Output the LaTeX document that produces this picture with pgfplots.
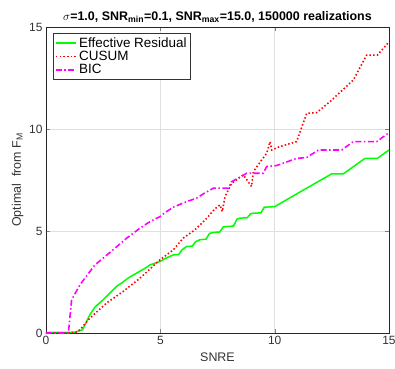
\documentclass[border=0pt]{standalone}
\usepackage{fontspec}
\setmainfont{Liberation Sans}
\usepackage{pgfplots}
\pgfplotsset{compat=1.18}
\definecolor{mgreen}{rgb}{0,1,0}
\definecolor{mred}{rgb}{1,0,0}
\definecolor{mmag}{rgb}{1,0,1}
\begin{document}
\begin{tikzpicture}
\begin{axis}[
  scale only axis,
  width=343bp, height=306bp,
  xmin=0, xmax=15, ymin=0, ymax=15,
  xtick={0,5,10,15}, ytick={0,5,10,15},
  tick align=inside,
  tick pos=both,
  major tick length=4bp,
  grid=major,
  grid style={gray!25, line width=0.5pt},
  axis line style={line width=0.6pt, black!85},
  /pgf/number format/assume math mode=true,
  tick label style={font=\fontsize{12}{14}\selectfont, text=black!80},
  label style={font=\fontsize{12.5}{14}\selectfont, text=black!80},
  xlabel={SNRE},
  ylabel={Optimal\ \ from F\textsubscript{M}},
  xlabel style={yshift=-1bp},
  ylabel style={yshift=-1bp},
  title={\bfseries $\sigma$=1.0, SNR$_{\mathbf{min}}$=0.1, SNR$_{\mathbf{max}}$=15.0, 150000 realizations},
  title style={font=\fontsize{12.5}{14}\selectfont, yshift=-5bp},
  legend style={font=\fontsize{13.5}{15}\selectfont, draw=black!80, line width=0.6pt, inner sep=2pt, row sep=-1.5pt, at={(0.02,0.98)}, anchor=north west, legend cell align=left},
  legend image code/.code={\draw[#1] (0cm,0cm) -- (0.72cm,0cm);},
  legend image post style={line width=1.6pt},
]
\coordinate (sw) at (rel axis cs:0,0);
\coordinate (ne) at (rel axis cs:1,1);
\addplot[mgreen, line width=1.5pt] coordinates {
(0,0.03) (0.5,0.03) (1.0,0.03) (1.3,0.05) (1.6,0.16) (1.92,0.9) (2.14,1.27) (2.5,1.63) (2.87,2.04) (3.1,2.3) (3.31,2.45) (3.6,2.7) (3.97,2.94) (4.3,3.15) (4.55,3.34) (4.99,3.51)
(5.3,3.7) (5.57,3.83) (5.8,3.85) (5.95,4.08) (6.15,4.24) (6.4,4.26) (6.55,4.48) (6.73,4.57) (7.0,4.6) (7.15,4.88) (7.32,4.93) (7.6,4.95) (7.75,5.2) (7.9,5.22) (8.2,5.24) (8.35,5.58) (8.48,5.63) (8.8,5.65) (8.95,5.85) (9.07,5.87) (9.4,5.89) (9.55,6.17) (9.65,6.17) (10.01,6.2)
(11.4,7.1) (12.49,7.8) (13.0,7.8) (13.95,8.56) (14.49,8.56) (15,8.97)};
\addlegendentry{Effective Residual}
\addplot[mred, line width=1.6pt, dash pattern=on 1.5pt off 2.2pt] coordinates {
(0,0) (0.5,0) (1.05,0) (1.3,0.03) (1.49,0.16) (1.92,0.73) (2.65,1.47) (3.38,2.04) (4.11,2.69) (4.99,3.59) (5.57,4.08) (6.0,4.65) (6.52,5.06) (7.03,5.63) (7.4,6.1) (7.61,6.28) (7.71,5.95) (7.83,6.69) (8.12,7.34) (8.63,7.75) (8.99,7.18) (9.07,7.91) (9.43,8.48) (9.65,8.81) (9.8,9.38) (9.87,8.97) (10.23,9.14) (10.96,9.38) (11.4,10.77) (11.84,10.8) (12.42,11.34) (13.44,12.4) (14.02,13.62) (14.49,13.62) (15,14.27)};
\addlegendentry{CUSUM}
\addplot[mmag, line width=1.6pt, dash pattern=on 6pt off 2.5pt on 1.5pt off 2.5pt] coordinates {
(0,0) (0.5,0) (0.98,0) (1.12,1.63) (1.49,2.37) (2.14,3.34) (2.5,3.67) (3.02,4.16) (3.53,4.65) (4.11,5.14) (4.55,5.46) (4.99,5.71) (5.2,5.9) (5.57,6.17) (6.15,6.44) (6.59,6.61) (6.88,6.82) (7.32,7.1) (7.97,7.1) (8.12,7.42) (8.78,7.83) (9.5,7.83) (9.65,8.16) (10.09,8.21) (10.96,8.56) (11.4,8.6) (11.91,8.97) (12.93,8.97) (13.44,9.38) (14.46,9.38) (15,9.82)};
\addlegendentry{BIC}
\end{axis}
\pgfresetboundingbox
\useasboundingbox ([shift={(-46bp,-36bp)}]sw) rectangle ([shift={(6bp,27bp)}]ne);
\end{tikzpicture}
\end{document}
